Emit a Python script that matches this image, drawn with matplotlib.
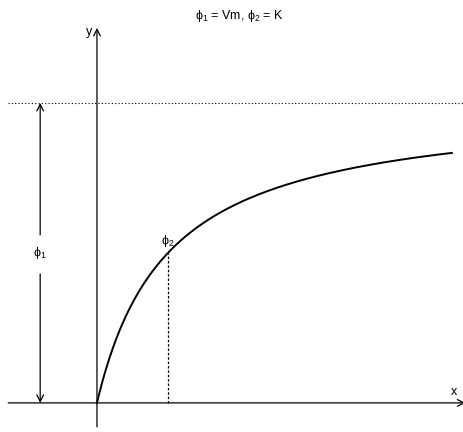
import numpy as np
import matplotlib
matplotlib.use("Agg")
import matplotlib.pyplot as plt

plt.rcParams["font.family"] = ["Liberation Sans", "DejaVu Sans"]
plt.rcParams["mathtext.fontset"] = "custom"
plt.rcParams["mathtext.rm"] = "Liberation Sans"
plt.rcParams["mathtext.it"] = "Liberation Sans"

# Michaelis-Menten parameters
Vm = 1.0
K = 1.0
x_max = 5.0

x = np.linspace(0, x_max, 400)
y = Vm * x / (K + x)

fig = plt.figure(figsize=(4.64, 4.32), dpi=100)
ax = fig.add_axes([0, 0, 1, 1])
ax.set_xlim(-1.366, 5.17)
ax.set_ylim(-0.097, 1.343)
ax.axis("off")

arrow = dict(arrowstyle="->", color="black", lw=0.9, shrinkA=0, shrinkB=0,
             mutation_scale=12)

# axes with arrow heads
ax.annotate("", xy=(5.19, 0), xytext=(-1.25, 0), arrowprops=arrow,
            annotation_clip=False)
ax.annotate("", xy=(0, 1.25), xytext=(0, -0.08), arrowprops=arrow)
ax.text(-0.07, 1.235, "y", ha="right", va="center", fontsize=9)
ax.text(5.03, 0.035, "x", ha="center", va="center", fontsize=9)

# saturation level
ax.plot([-1.25, 5.17], [Vm, Vm], color="black", lw=0.8, ls=(0, (1, 2)))

# curve
ax.plot(x, y, color="black", lw=1.4)

# half-saturation point
ax.plot([K, K], [0, Vm * K / (K + K)], color="black", lw=0.9, ls=(0, (2, 1.5)))
ax.text(K, 0.54, r"$\phi_2$", ha="center", va="center", fontsize=9)

# double arrow for Vm with label
xa = -0.80
ax.annotate("", xy=(xa, Vm), xytext=(xa, 0.56), arrowprops=arrow)
ax.annotate("", xy=(xa, 0), xytext=(xa, 0.43), arrowprops=arrow)
ax.text(xa, 0.5, r"$\phi_1$", ha="center", va="center", fontsize=9)

fig.text(0.515, 0.962, r"$\phi_1$ = Vm, $\phi_2$ = K", ha="center", va="center",
         fontsize=9)

fig.savefig("out.png", dpi=100)
